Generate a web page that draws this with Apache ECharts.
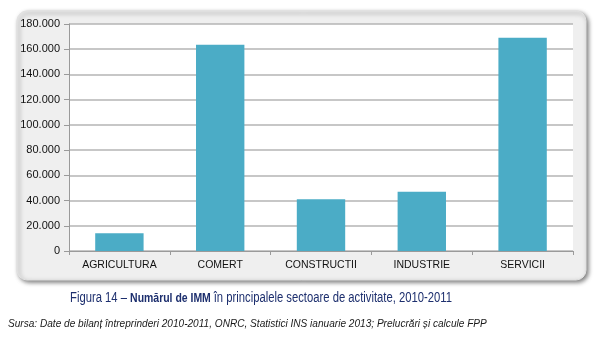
<!DOCTYPE html>
<html>
<head>
<meta charset="utf-8">
<script src="https://cdn.jsdelivr.net/npm/echarts@6/dist/echarts.min.js"></script>
<style>
  html, body { margin: 0; padding: 0; background: #ffffff; }
  #chart { width: 600px; height: 338px; }
</style>
</head>
<body>
<div id="chart"></div>
<script>
// Sectors of activity and number of SMEs in each
const categories = ['AGRICULTURA', 'COMERT', 'CONSTRUCTII', 'INDUSTRIE', 'SERVICII'];
const smeCounts = [14000, 163500, 41000, 47000, 169000];
const yTicks = { min: 0, max: 180000, interval: 20000 };

const titleLead = 'Figura 14 – ';
const titleBold = 'Numărul de IMM ';
const titleRest = 'în principalele sectoare de activitate, 2010-2011';
const sourceText = 'Sursa: Date de bilanț întreprinderi 2010-2011, ONRC, Statistici INS ianuarie 2013; Prelucrări și calcule FPP';

const FONT = '"Liberation Sans", Arial, sans-serif';
const CAPTION_COLOR = '#1d2f6e';
const titleFontNormal = '14px ' + FONT;
const titleFontBold = 'bold 13px ' + FONT;

function thousands(v) {
  return String(v).replace(/\B(?=(\d{3})+(?!\d))/g, '.');
}

// Condense the caption horizontally so it fits a narrow line width
const ctx = document.createElement('canvas').getContext('2d');
function textWidth(t, font) { ctx.font = font; return ctx.measureText(t).width; }
const captionWidth = textWidth(titleLead, titleFontNormal) + textWidth(titleBold, titleFontBold) + textWidth(titleRest, titleFontNormal);
const captionScale = 382 / captionWidth;

const chart = echarts.init(document.getElementById('chart'), null, { renderer: 'canvas' });

chart.setOption({
  animation: false,
  backgroundColor: '#ffffff',
  graphic: [
    {
      type: 'rect',
      z: -10,
      shape: { x: 17, y: 11, width: 569, height: 269, r: 10 },
      style: {
        fill: '#efefef',
        stroke: '#e2e2e2',
        lineWidth: 1,
        shadowBlur: 4,
        shadowOffsetX: 2,
        shadowOffsetY: 2,
        shadowColor: 'rgba(0,0,0,0.5)'
      }
    },
    {
      type: 'text',
      x: 70,
      y: 291,
      scaleX: captionScale,
      style: {
        text: '{n|' + titleLead + '}{b|' + titleBold + '}{n|' + titleRest + '}',
        fill: CAPTION_COLOR,
        rich: {
          n: { fontSize: 14, fontFamily: FONT, fill: CAPTION_COLOR },
          b: { fontSize: 13, fontWeight: 'bold', fontFamily: FONT, fill: CAPTION_COLOR }
        }
      }
    },
    {
      type: 'text',
      x: 8,
      y: 319,
      scaleX: 0.98,
      style: {
        text: sourceText,
        fill: '#1a1a1a',
        font: 'italic 10.3px ' + FONT
      }
    }
  ],
  grid: {
    left: 69,
    right: 27,
    top: 24,
    bottom: 87,
    show: true,
    backgroundColor: '#ffffff',
    borderWidth: 0
  },
  xAxis: {
    type: 'category',
    data: categories,
    axisLine: { show: true, lineStyle: { color: '#9a9a9a', width: 1 } },
    axisTick: { show: true, length: 4, lineStyle: { color: '#9a9a9a' } },
    axisLabel: {
      color: '#111111',
      fontSize: 10.5,
      fontFamily: FONT,
      margin: 9
    },
    splitLine: { show: false }
  },
  yAxis: {
    type: 'value',
    min: yTicks.min,
    max: yTicks.max,
    interval: yTicks.interval,
    axisLine: { show: true, lineStyle: { color: '#9a9a9a', width: 1 } },
    axisTick: { show: true, length: 5, lineStyle: { color: '#9a9a9a' } },
    axisLabel: {
      color: '#111111',
      fontSize: 11,
      fontFamily: FONT,
      margin: 9,
      formatter: thousands
    },
    splitLine: { show: true, lineStyle: { color: '#b4b4b4', width: 1.5 } }
  },
  series: [
    {
      type: 'bar',
      data: smeCounts,
      barWidth: '48%',
      itemStyle: { color: '#4bacc6' }
    }
  ]
});
</script>
</body>
</html>
